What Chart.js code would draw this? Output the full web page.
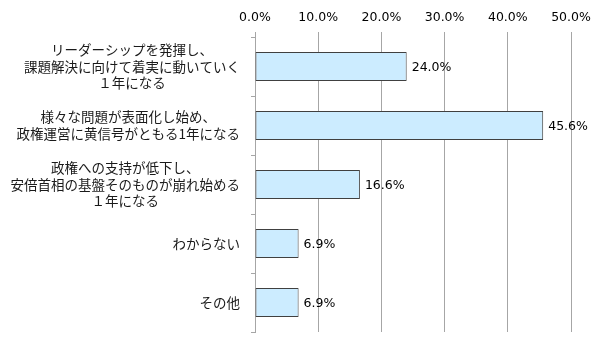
<!DOCTYPE html>
<html>
<head>
<meta charset="utf-8">
<script src="https://cdn.jsdelivr.net/npm/chart.js@4"></script>
<style>
  html, body { margin: 0; padding: 0; background: #fff; }
  #wrap { width: 600px; height: 344px; }
</style>
</head>
<body>
<div id="wrap"><canvas id="grafico"></canvas></div>
<script>
// dados do gráfico
const categorias = [
    ['リーダーシップを発揮し、', '課題解決に向けて着実に動いていく', '１年になる'],
    ['様々な問題が表面化し始め、', '政権運営に黄信号がともる1年になる'],
    ['政権への支持が低下し、', '安倍首相の基盤そのものが崩れ始める', '１年になる'],
    ['わからない'],
    ['その他']
];
const valores = [24.0, 45.6, 16.6, 6.9, 6.9];
const ticksX = [0, 10, 20, 30, 40, 50];

const fonteNum = '"DejaVu Sans", Verdana, sans-serif';
const fonteJp = '"Noto Sans CJK JP", sans-serif';

// rótulos das categorias: bloco alinhado à direita, linhas centralizadas
const rotulosCategorias = {
    id: 'rotulosCategorias',
    afterDraw(chart) {
        const ctx = chart.ctx;
        const y = chart.scales.y;
        const direita = y.right - 15;
        const altLinha = 16.5;
        ctx.save();
        ctx.font = '13.5px ' + fonteJp;
        ctx.fillStyle = '#1a1a1a';
        ctx.textAlign = 'center';
        ctx.textBaseline = 'middle';
        categorias.forEach((linhas, i) => {
            const larg = Math.max(...linhas.map(l => ctx.measureText(l).width));
            const cx = direita - larg / 2;
            const cy = y.getPixelForValue(i);
            const y0 = cy - (linhas.length - 1) * altLinha / 2;
            linhas.forEach((l, k) => ctx.fillText(l, cx, y0 + k * altLinha));
        });
        ctx.restore();
    }
};

// valores no fim das barras
const rotulosValores = {
    id: 'rotulosValores',
    afterDatasetsDraw(chart) {
        const ctx = chart.ctx;
        const meta = chart.getDatasetMeta(0);
        ctx.save();
        ctx.font = '12.5px ' + fonteNum;
        ctx.fillStyle = '#000';
        ctx.textAlign = 'left';
        ctx.textBaseline = 'middle';
        meta.data.forEach((barra, i) => {
            ctx.fillText(valores[i].toFixed(1) + '%', barra.x + 5, barra.y + 1);
        });
        ctx.restore();
    }
};

const ctx = document.getElementById('grafico').getContext('2d');
new Chart(ctx, {
    type: 'bar',
    data: {
        labels: categorias,
        datasets: [{
            data: valores,
            backgroundColor: '#CCECFF',
            borderColor: '#404040',
            borderWidth: 1,
            borderSkipped: false,
            categoryPercentage: 1,
            barPercentage: 0.49
        }]
    },
    options: {
        indexAxis: 'y',
        responsive: true,
        maintainAspectRatio: false,
        animation: false,
        layout: { padding: { left: 0, right: 29, top: 0, bottom: 12 } },
        plugins: {
            legend: { display: false },
            tooltip: { enabled: false }
        },
        scales: {
            x: {
                position: 'top',
                min: 0,
                max: 50,
                afterFit(s) { s.height = 37; },
                afterBuildTicks(s) { s.ticks = ticksX.map(v => ({ value: v })); },
                ticks: {
                    padding: 7,
                    color: '#000',
                    font: { family: fonteNum, size: 12.5 },
                    callback: v => v.toFixed(1) + '%'
                },
                grid: { color: '#A6A6A6', tickLength: 5 },
                border: { display: false }
            },
            y: {
                afterFit(s) { s.width = 255; },
                ticks: { display: false },
                grid: { drawOnChartArea: false, color: '#A6A6A6', tickLength: 4, offset: true },
                border: { display: true, color: '#A6A6A6' }
            }
        }
    },
    plugins: [rotulosCategorias, rotulosValores]
});
</script>
</body>
</html>
